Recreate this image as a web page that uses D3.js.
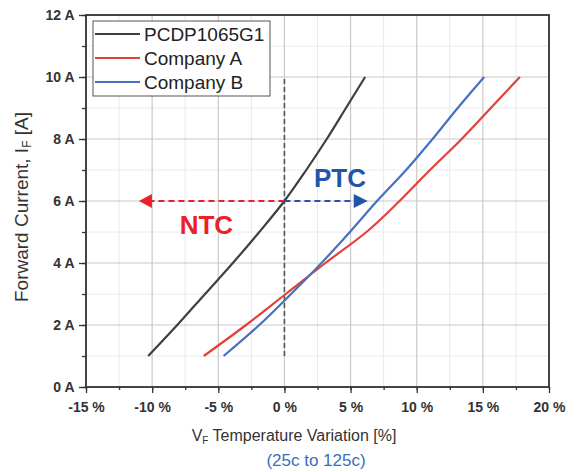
<!DOCTYPE html>
<html>
<head>
<meta charset="utf-8">
<script src="https://d3js.org/d3.v7.min.js"></script>
<style>
  body { margin: 0; background: #fff; }
  text { font-family: "Liberation Sans", Arial, sans-serif; }
</style>
</head>
<body>
<script>
// chart data
var currents = [1, 2, 3, 4, 5, 6, 7, 8, 9, 10];
var pcdpVariation = [-10.3, -8.1, -6.0, -3.9, -1.9, 0, 1.65, 3.2, 4.65, 6.1];
var companyAVariation = [-6.1, -2.9, 0.1, 3.1, 6.2, 8.7, 11.0, 13.4, 15.6, 17.8];
var companyBVariation = [-4.6, -1.9, 0.5, 2.8, 4.95, 7.0, 9.2, 11.2, 13.1, 15.1];
var seriesNames = ['PCDP1065G1', 'Company A', 'Company B'];
var seriesColors = ['#3f3f3f', '#e2413c', '#4471c2'];
var xTicks = [-15, -10, -5, 0, 5, 10, 15, 20];
var yTicks = [0, 2, 4, 6, 8, 10, 12];
var ntcEnd = -11.0, ptcEnd = 6.3, arrowCurrent = 6;

var width = 577,
    height = 472;
var margin = {left: 86, right: 28, top: 15, bottom: 85};

var svg = d3.select('body')
    .append('svg')
    .attr('width', width)
    .attr('height', height);

var x = d3.scaleLinear().domain([-15, 20]).range([margin.left, width - margin.right]);
var y = d3.scaleLinear().domain([0, 12]).range([height - margin.bottom, margin.top]);

var minorX = d3.range(-15, 20.1, 2.5);
var minorY = d3.range(0, 12.1, 1);

// minor grid
svg.append('g').selectAll('line')
    .data(minorX.filter(function(d) { return d % 5 !== 0; }))
    .enter().append('line')
    .attr('x1', function(d) { return x(d); }).attr('x2', function(d) { return x(d); })
    .attr('y1', y(0)).attr('y2', y(12))
    .attr('stroke', '#ece8e8').attr('stroke-width', 1);
svg.append('g').selectAll('line')
    .data(minorY.filter(function(d) { return d % 2 !== 0; }))
    .enter().append('line')
    .attr('x1', x(-15)).attr('x2', x(20))
    .attr('y1', function(d) { return y(d); }).attr('y2', function(d) { return y(d); })
    .attr('stroke', '#ece8e8').attr('stroke-width', 1);

// major grid
svg.append('g').selectAll('line')
    .data(xTicks)
    .enter().append('line')
    .attr('x1', function(d) { return x(d); }).attr('x2', function(d) { return x(d); })
    .attr('y1', y(0)).attr('y2', y(12))
    .attr('stroke', '#cfc7c7').attr('stroke-width', 1.2);
svg.append('g').selectAll('line')
    .data(yTicks)
    .enter().append('line')
    .attr('x1', x(-15)).attr('x2', x(20))
    .attr('y1', function(d) { return y(d); }).attr('y2', function(d) { return y(d); })
    .attr('stroke', '#cfc7c7').attr('stroke-width', 1.2);

// axes
var xAxis = svg.append('g')
    .attr('transform', 'translate(0,' + y(0) + ')')
    .call(d3.axisBottom(x).tickValues(xTicks).tickSize(6).tickFormat(function(d) { return d + ' %'; }));
var xMinor = svg.append('g')
    .attr('transform', 'translate(0,' + y(0) + ')')
    .call(d3.axisBottom(x).tickValues(minorX).tickSize(3).tickFormat(''));
var yAxis = svg.append('g')
    .attr('transform', 'translate(' + x(-15) + ',0)')
    .call(d3.axisLeft(y).tickValues(yTicks).tickSize(7).tickFormat(function(d) { return d + ' A'; }));
var yMinor = svg.append('g')
    .attr('transform', 'translate(' + x(-15) + ',0)')
    .call(d3.axisLeft(y).tickValues(minorY).tickSize(4).tickFormat(''));

[xAxis, xMinor, yAxis, yMinor].forEach(function(g) {
    g.select('.domain').remove();
    g.selectAll('line').attr('stroke', '#333').attr('stroke-width', 1.3);
    g.selectAll('text')
        .style('font-family', '"Liberation Sans", Arial, sans-serif')
        .style('font-size', '14px')
        .style('font-weight', 'bold')
        .attr('fill', '#333');
});
xAxis.selectAll('text').attr('dy', '1.15em');
yAxis.selectAll('text').attr('dx', '-0.1em');

// frame
svg.append('rect')
    .attr('x', x(-15)).attr('y', y(12))
    .attr('width', x(20) - x(-15)).attr('height', y(0) - y(12))
    .attr('fill', 'none').attr('stroke', '#333').attr('stroke-width', 1.8);

// vertical zero line
svg.append('line')
    .attr('x1', x(0)).attr('x2', x(0))
    .attr('y1', y(1)).attr('y2', y(10))
    .attr('stroke', '#555').attr('stroke-width', 1.6)
    .attr('stroke-dasharray', '5,3');

// series
var allSeries = [pcdpVariation, companyAVariation, companyBVariation];
var line = d3.line()
    .x(function(d) { return x(d[0]); })
    .y(function(d) { return y(d[1]); })
    .curve(d3.curveMonotoneY);

svg.append('g').selectAll('path')
    .data(allSeries)
    .enter().append('path')
    .attr('d', function(s) { return line(s.map(function(v, i) { return [v, currents[i]]; })); })
    .attr('fill', 'none')
    .attr('stroke', function(d, i) { return seriesColors[i]; })
    .attr('stroke-width', 2.2);

// NTC / PTC arrows
svg.append('line')
    .attr('x1', x(0)).attr('x2', x(ntcEnd) + 10)
    .attr('y1', y(arrowCurrent)).attr('y2', y(arrowCurrent))
    .attr('stroke', '#ea2127').attr('stroke-width', 2)
    .attr('stroke-dasharray', '6,4');
svg.append('path')
    .attr('d', 'M' + x(ntcEnd) + ',' + y(arrowCurrent) + 'l13,-7v14z')
    .attr('fill', '#ea2127');
svg.append('line')
    .attr('x1', x(0)).attr('x2', x(ptcEnd) - 10)
    .attr('y1', y(arrowCurrent)).attr('y2', y(arrowCurrent))
    .attr('stroke', '#2255a8').attr('stroke-width', 2)
    .attr('stroke-dasharray', '6,4');
svg.append('path')
    .attr('d', 'M' + x(ptcEnd) + ',' + y(arrowCurrent) + 'l-14,-7v14z')
    .attr('fill', '#2255a8');

svg.append('text')
    .attr('x', x(-5.9)).attr('y', y(arrowCurrent) + 33)
    .attr('text-anchor', 'middle')
    .style('font-size', '26px').style('font-weight', 'bold')
    .attr('fill', '#ea2127')
    .text('NTC');
svg.append('text')
    .attr('x', x(4.2)).attr('y', y(arrowCurrent) - 14)
    .attr('text-anchor', 'middle')
    .style('font-size', '26px').style('font-weight', 'bold')
    .attr('fill', '#2255a8')
    .text('PTC');

// legend
var legend = svg.append('g').attr('transform', 'translate(93,21)');
legend.append('rect')
    .attr('width', 177).attr('height', 75)
    .attr('fill', '#fff').attr('stroke', '#555').attr('stroke-width', 1);
var items = legend.selectAll('.item')
    .data(seriesNames)
    .enter().append('g')
    .attr('transform', function(d, i) { return 'translate(0,' + (13 + i * 24) + ')'; });
items.append('line')
    .attr('x1', 2).attr('x2', 47)
    .attr('stroke', function(d, i) { return seriesColors[i]; })
    .attr('stroke-width', 2.2);
items.append('text')
    .attr('x', 51).attr('dy', '0.35em')
    .style('font-size', '19px')
    .attr('fill', '#222')
    .text(function(d) { return d; });

// axis titles
var xTitle = svg.append('text')
    .attr('x', 294).attr('y', 441)
    .attr('text-anchor', 'middle')
    .style('font-size', '16px')
    .attr('fill', '#333');
xTitle.append('tspan').text('V');
xTitle.append('tspan').attr('dy', 3).style('font-size', '10px').text('F');
xTitle.append('tspan').attr('dy', -3).text(' Temperature Variation [%]');

svg.append('text')
    .attr('x', 316).attr('y', 466)
    .attr('text-anchor', 'middle')
    .style('font-size', '17px')
    .attr('fill', '#3a6dbb')
    .text('(25c to 125c)');

var yTitle = svg.append('text')
    .attr('transform', 'translate(28,' + ((y(0) + y(12)) / 2 + 6) + ') rotate(-90)')
    .attr('text-anchor', 'middle')
    .style('font-size', '19px')
    .attr('fill', '#333');
yTitle.append('tspan').text('Forward Current, I');
yTitle.append('tspan').attr('dy', 3).style('font-size', '12px').text('F');
yTitle.append('tspan').attr('dy', -3).text(' [A]');
</script>
</body>
</html>
